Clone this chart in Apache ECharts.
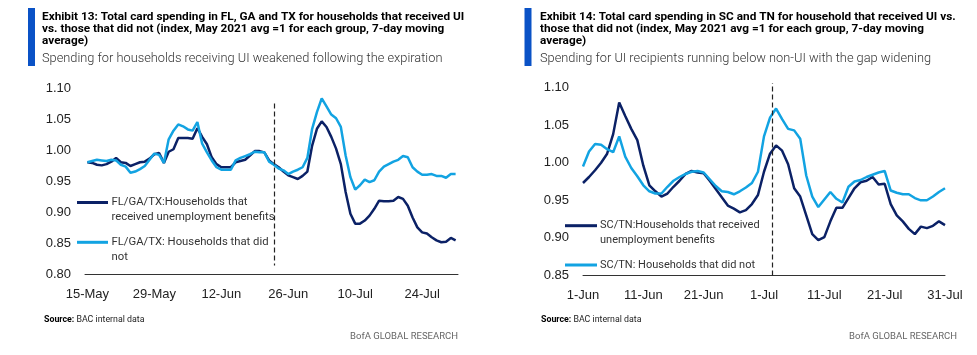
<!DOCTYPE html>
<html><head><meta charset="utf-8">
<script src="https://cdn.jsdelivr.net/npm/echarts@6/dist/echarts.min.js"></script>
<style>html,body{margin:0;padding:0;background:#fff;}#c{width:977px;height:355px;}</style>
</head><body><div id="c"></div>
<script>
// ---------- DATA ----------
// Exhibit 13: FL/GA/TX, daily 15-May .. 31-Jul 2021
const start1 = [2021, 4, 15];
const count1 = 78;
const uiFL = [0.981,0.980,0.977,0.976,0.978,0.982,0.988,0.981,0.980,0.975,
  0.978,0.981,0.982,0.987,0.994,0.996,0.980,0.998,1.002,1.020,
  1.020,1.020,1.019,1.036,1.022,1.010,0.989,0.978,0.973,0.973,
  0.973,0.981,0.983,0.985,0.992,0.999,0.999,0.997,0.984,0.978,
  0.973,0.966,0.960,0.957,0.954,0.959,0.966,1.008,1.035,1.047,
  1.038,1.022,1.003,0.978,0.933,0.898,0.882,0.882,0.887,0.895,
  0.906,0.919,0.918,0.918,0.919,0.925,0.922,0.911,0.892,0.876,
  0.868,0.866,0.860,0.855,0.852,0.853,0.859,0.855];
const nonUiFL = [0.981,0.983,0.985,0.984,0.983,0.985,0.984,0.977,0.974,0.964,
  0.966,0.970,0.975,0.985,0.995,0.993,0.980,1.018,1.032,1.042,
  1.039,1.034,1.032,1.046,1.011,0.997,0.984,0.973,0.969,0.969,
  0.969,0.984,0.988,0.991,0.994,0.998,0.997,0.997,0.982,0.977,
  0.971,0.968,0.962,0.966,0.969,0.973,0.988,1.035,1.062,1.084,
  1.071,1.058,1.052,1.038,0.992,0.957,0.937,0.944,0.953,0.949,
  0.952,0.966,0.974,0.978,0.982,0.985,0.991,0.989,0.973,0.966,
  0.961,0.961,0.962,0.959,0.959,0.956,0.962,0.962];
const ticks1 = ['15-May','29-May','12-Jun','26-Jun','10-Jul','24-Jul'];
const marker1 = '23-Jun';
const marker1Range = [1.0758, 0.8145];
const yTicks1 = [0.80, 1.10, 0.05];
const legend1 = ['FL/GA/TX:Households that\nreceived unemployment benefits', 'FL/GA/TX: Households that did\nnot'];

// Exhibit 14: SC/TN, day index 0 = 1-Jun .. 60 = 31-Jul 2021
const uiSC = [0.973,0.981,0.990,1.000,1.012,1.038,1.080,1.062,1.045,1.030,
  0.996,0.970,0.962,0.955,0.959,0.968,0.976,0.985,0.989,0.987,
  0.986,0.976,0.965,0.954,0.943,0.939,0.934,0.937,0.945,0.957,
  0.988,1.012,1.023,1.016,0.998,0.966,0.955,0.930,0.905,0.897,
  0.901,0.922,0.940,0.940,0.953,0.966,0.974,0.976,0.981,0.971,
  0.972,0.945,0.930,0.922,0.912,0.905,0.915,0.913,0.916,0.922,0.917];
const nonUiSC = [0.995,1.015,1.025,1.024,1.018,1.014,1.035,1.008,0.993,0.982,
  0.970,0.962,0.959,0.959,0.968,0.976,0.981,0.985,0.988,0.989,
  0.987,0.978,0.969,0.962,0.961,0.958,0.962,0.967,0.973,0.988,
  1.035,1.060,1.072,1.058,1.045,1.043,1.032,0.983,0.955,0.941,
  0.951,0.961,0.952,0.947,0.968,0.975,0.977,0.981,0.984,0.987,
  0.989,0.963,0.960,0.958,0.958,0.953,0.950,0.950,0.955,0.961,0.966];
const ticks2 = ['1-Jun','11-Jun','21-Jun','1-Jul','11-Jul','21-Jul','31-Jul'];
const marker2Day = 31.4;
const yTicks2 = [0.85, 1.106, 0.05];
const legend2 = ['SC/TN:Households that received\nunemployment benefits', 'SC/TN: Households that did not'];

// ---------- STYLE ----------
const DARK = '#0b2166', LIGHT = '#12a3e2', BAR = '#0a52c6';
const TXT = 'Roboto,"Noto Sans",sans-serif';
const SANS = '"Liberation Sans","DejaVu Sans",sans-serif';
const MONTHS = ['Jan','Feb','Mar','Apr','May','Jun','Jul','Aug','Sep','Oct','Nov','Dec'];
function dayLabels(y, m, d, n) {
  const out = [];
  for (let i = 0; i < n; i++) {
    const dt = new Date(Date.UTC(y, m, d + i));
    out.push(dt.getUTCDate() + '-' + MONTHS[dt.getUTCMonth()]);
  }
  return out;
}
const cats1 = dayLabels(start1[0], start1[1], start1[2], count1);
const sc1 = uiSC.map((v, i) => [i, v]);
const sc2 = nonUiSC.map((v, i) => [i, v]);

const axLabel = {fontFamily: SANS, fontSize: 13, color: '#222'};
function yFmt(v) { return Math.abs(v * 20 - Math.round(v * 20)) < 1e-6 ? v.toFixed(2) : ''; }

function legendItems(x0, x1, tx, y0, y1, color0, color1, texts, fs) {
  const mk = (y, c, t) => [
    {type: 'line', shape: {x1: x0, y1: y, x2: x1, y2: y}, style: {stroke: c, lineWidth: 3}},
    {type: 'text', x: tx, y: y - 7.5, style: {text: t, font: fs + 'px ' + TXT, fill: '#333', lineHeight: 15, verticalAlign: 'top'}}
  ];
  return mk(y0, color0, texts[0]).concat(mk(y1, color1, texts[1]));
}
function sourceText(x) {
  return {type: 'text', x: x, y: 320, style: {text: '{b|Source:} BAC internal data', font: '8.8px ' + TXT, fill: '#222', verticalAlign: 'middle',
    rich: {b: {fontWeight: 'bold', fontFamily: TXT, fontSize: 8.8, fill: '#000'}}}};
}
function brandText(x) {
  return {type: 'text', x: x, y: 336.5, style: {text: 'BofA GLOBAL RESEARCH', font: '9.5px ' + TXT, fill: '#666', align: 'right', verticalAlign: 'middle'}};
}

const chart = echarts.init(document.getElementById('c'), null, {renderer: 'canvas'});
const titleStyle = {fontFamily: TXT, fontSize: 11.8, fontWeight: 'bold', color: '#000', lineHeight: 12.3};
const subStyle = {fontFamily: TXT, fontSize: 12.8, fontWeight: 300, color: '#333', lineHeight: 15};

chart.setOption({
  animation: false,
  backgroundColor: '#fff',
  title: [
    {text: 'Exhibit 13: Total card spending in FL, GA and TX for households that received UI\nvs. those that did not (index, May 2021 avg =1 for each group, 7-day moving\naverage)',
     subtext: 'Spending for households receiving UI weakened following the expiration',
     left: 42, top: 10.5, padding: 0, itemGap: 4, textStyle: titleStyle, subtextStyle: subStyle},
    {text: 'Exhibit 14: Total card spending in SC and TN for household that received UI vs.\nthose that did not (index, May 2021 avg =1 for each group, 7-day moving\naverage)',
     subtext: 'Spending for UI recipients running below non-UI with the gap widening',
     left: 540, top: 10.5, padding: 0, itemGap: 4, textStyle: titleStyle, subtextStyle: subStyle}
  ],
  grid: [
    {left: 85, top: 88.5, width: 373, height: 186},
    {left: 583, top: 83, width: 362, height: 192.5}
  ],
  xAxis: [
    {type: 'category', gridIndex: 0, data: cats1, boundaryGap: true,
     axisLine: {lineStyle: {color: '#333', width: 1}}, axisTick: {show: false},
     axisLabel: Object.assign({interval: (i, v) => ticks1.indexOf(v) >= 0, margin: 13}, axLabel),
     splitLine: {show: false}},
    {type: 'value', gridIndex: 1, min: 0, max: 60, interval: 10,
     axisLine: {show: true, onZero: false, lineStyle: {color: '#333', width: 1}}, axisTick: {show: false},
     axisLabel: Object.assign({formatter: v => ticks2[Math.round(v / 10)] || '', margin: 13}, axLabel),
     splitLine: {show: false}}
  ],
  yAxis: [
    {type: 'value', gridIndex: 0, min: yTicks1[0], max: yTicks1[1], interval: yTicks1[2],
     axisLine: {show: false}, axisTick: {show: false}, splitLine: {show: false},
     axisLabel: Object.assign({formatter: yFmt, margin: 14}, axLabel)},
    {type: 'value', gridIndex: 1, min: yTicks2[0], max: yTicks2[1], interval: yTicks2[2],
     axisLine: {show: false}, axisTick: {show: false}, splitLine: {show: false},
     axisLabel: Object.assign({formatter: yFmt, margin: 14, showMaxLabel: false}, axLabel)}
  ],
  series: [
    {name: legend1[0], type: 'line', xAxisIndex: 0, yAxisIndex: 0, data: uiFL, symbol: 'none',
     lineStyle: {color: DARK, width: 2.5}, itemStyle: {color: DARK},
     markLine: {silent: true, symbol: ['none', 'none'], label: {show: false},
       lineStyle: {type: [5, 3], color: '#222', width: 1.2},
       data: [[{coord: [marker1, marker1Range[0]]}, {coord: [marker1, marker1Range[1]]}]]}},
    {name: legend1[1], type: 'line', xAxisIndex: 0, yAxisIndex: 0, data: nonUiFL, symbol: 'none',
     lineStyle: {color: LIGHT, width: 2.5}, itemStyle: {color: LIGHT}},
    {name: legend2[0], type: 'line', xAxisIndex: 1, yAxisIndex: 1, data: sc1, symbol: 'none',
     lineStyle: {color: DARK, width: 2.5}, itemStyle: {color: DARK},
     markLine: {silent: true, symbol: ['none', 'none'], label: {show: false},
       lineStyle: {type: [5, 3], color: '#222', width: 1.2},
       data: [{xAxis: marker2Day}]}},
    {name: legend2[1], type: 'line', xAxisIndex: 1, yAxisIndex: 1, data: sc2, symbol: 'none',
     lineStyle: {color: LIGHT, width: 2.5}, itemStyle: {color: LIGHT}}
  ],
  graphic: [
    {type: 'rect', shape: {x: 28, y: 8, width: 7, height: 58}, style: {fill: BAR}},
    {type: 'rect', shape: {x: 524.5, y: 8, width: 7, height: 58}, style: {fill: BAR}},
    ...legendItems(77, 108, 111.5, 202.5, 242.3, DARK, LIGHT, legend1, 11.3),
    ...legendItems(565, 597, 600, 225.7, 265, DARK, LIGHT, legend2, 11),
    sourceText(44), sourceText(541),
    brandText(458), brandText(957)
  ]
});
</script></body></html>
